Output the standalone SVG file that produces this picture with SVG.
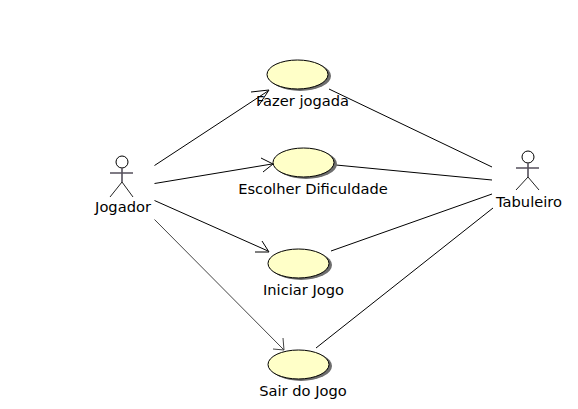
<svg xmlns="http://www.w3.org/2000/svg" width="578" height="409" viewBox="0 0 578 409">
<style>
.bg{fill:#fff}
text{font-family:"DejaVu Sans",sans-serif;font-size:14.67px;fill:#000;text-anchor:middle}
.uc{fill:#ffffc8;stroke:#000;stroke-width:1}
.sh{fill:#6e6e6e}
.l{fill:none;stroke:#000;stroke-width:1}
.a{fill:none;stroke:#000;stroke-width:1}
.head{fill:#fff;stroke:#000;stroke-width:1}
.body{stroke:#55505c;stroke-width:1.6;fill:none}
.thin{stroke:#222;stroke-width:1;fill:none}
</style>
<rect class="bg" width="578" height="409"/>
<g id="connectors">
<path class="l" d="M154.500 165.500L268 91"/><path class="a" d="M251 92L269 90L259 105"/>
<path class="l" d="M154.500 183.500L272 164"/><path class="a" d="M261 158L273 164L263 172"/>
<path class="l" d="M154.500 200.500L268 251"/><path class="a" d="M262 241L269 252L255 252"/>
<path class="l" d="M154.500 219.500L284 350" style="stroke:#444"/><path class="a" d="M283 338L284 350L273 349" style="stroke:#444"/>
<path class="l" d="M329 89L492 167"/>
<path class="l" d="M336 165L492 180"/>
<path class="l" d="M331 251L492 194"/>
<path class="l" d="M316 348L493 208"/>
</g>
<g id="uc-fazer">
<ellipse class="sh" cx="300" cy="76" rx="31" ry="15"/>
<ellipse class="uc" cx="297.500" cy="74.500" rx="30.500" ry="14.500"/>
<text x="302.500" y="106">Fazer jogada</text>
</g>
<g id="uc-escolher">
<ellipse class="sh" cx="306" cy="164" rx="31" ry="15"/>
<ellipse class="uc" cx="303.500" cy="162.500" rx="30.500" ry="14.500"/>
<text x="313" y="194">Escolher Dificuldade</text>
</g>
<g id="uc-iniciar">
<ellipse class="sh" cx="301" cy="265" rx="31" ry="15"/>
<ellipse class="uc" cx="298.500" cy="263.500" rx="30.500" ry="14.500"/>
<text x="303.500" y="295">Iniciar Jogo</text>
</g>
<g id="uc-sair">
<ellipse class="sh" cx="301" cy="366" rx="31" ry="15"/>
<ellipse class="uc" cx="298.500" cy="364.500" rx="30.500" ry="14.500"/>
<text x="303" y="396">Sair do Jogo</text>
</g>
<g id="actor-jogador">
<circle class="head" cx="122" cy="162" r="6"/>
<path class="body" d="M122 168V182M110 173H133"/>
<path class="thin" d="M110 197L122 182L133 197"/>
<text x="123" y="212">Jogador</text>
</g>
<g id="actor-tabuleiro">
<circle class="head" cx="528" cy="157" r="6"/>
<path class="body" d="M528 163V177M516 168H539"/>
<path class="thin" d="M516 190L528 177L539 190"/>
<text x="529" y="207">Tabuleiro</text>
</g>
</svg>
